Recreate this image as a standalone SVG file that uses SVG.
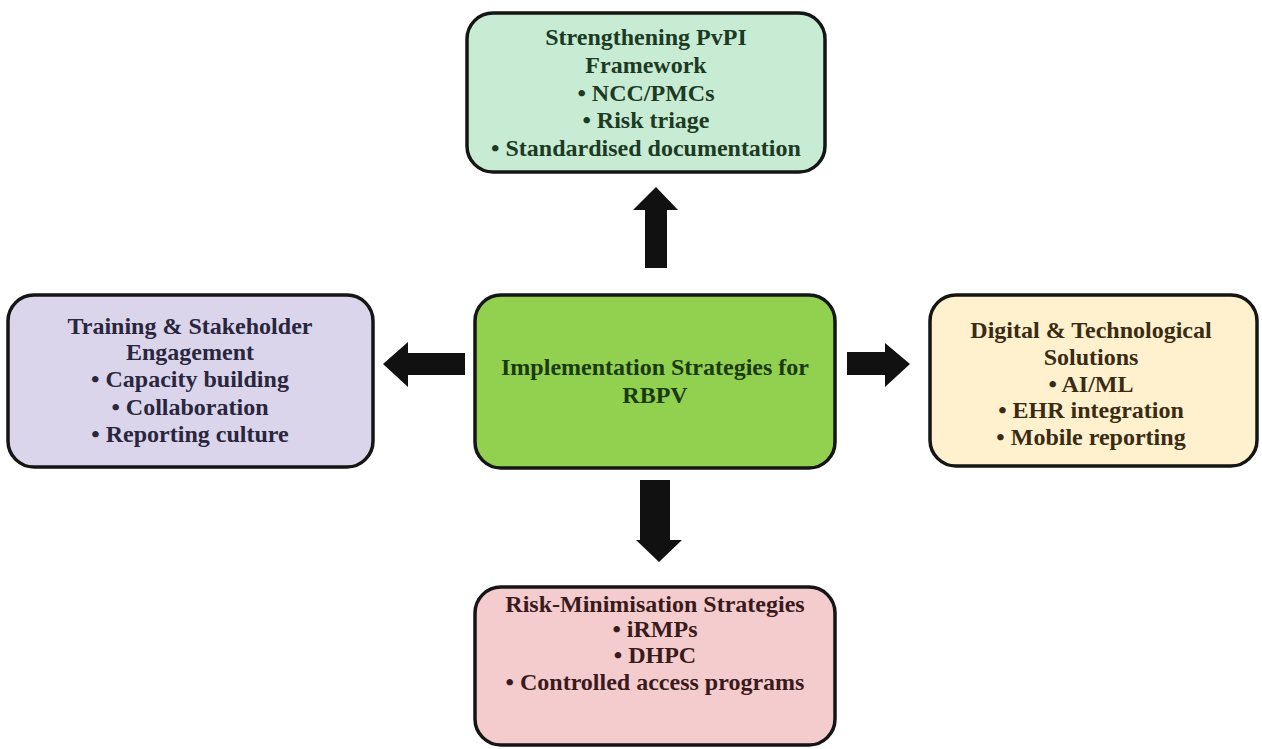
<svg xmlns="http://www.w3.org/2000/svg" width="1262" height="749" viewBox="0 0 1262 749">
<style>
.box{stroke:#151515;stroke-width:3.5}
.t{font-family:"Liberation Serif","Times New Roman",serif;font-weight:bold;font-size:24px;text-anchor:middle}
.arrow{fill:#111111}
</style>
<rect width="1262" height="749" fill="#ffffff"/>
<g id="connectors">
<polygon class="arrow" points="656,187 678,210 667,210 667,268 645,268 645,210 633,210"/>
<polygon class="arrow" points="383,364 408,342 408,353 465,353 465,375 408,375 408,387"/>
<polygon class="arrow" points="910,364 885,343 885,352 847,352 847,375 885,375 885,387"/>
<polygon class="arrow" points="659,562 682,540 670,540 670,480 640,480 640,540 636,540"/>
</g>
<g id="top">
<rect class="box" x="467" y="13" width="358" height="159" rx="26" fill="#c7ecd3"/>
<text class="t" fill="#1d3a25"><tspan x="646" y="45">Strengthening PvPI</tspan><tspan x="646" y="73">Framework</tspan><tspan x="646" y="101">• NCC/PMCs</tspan><tspan x="646" y="128">• Risk triage</tspan><tspan x="646" y="156">• Standardised documentation</tspan></text>
</g>
<g id="left">
<rect class="box" x="8" y="295" width="365" height="172" rx="26" fill="#dbd5ec"/>
<text class="t" fill="#29263d"><tspan x="190" y="334">Training &amp; Stakeholder</tspan><tspan x="190" y="360">Engagement</tspan><tspan x="190" y="387">• Capacity building</tspan><tspan x="190" y="415">• Collaboration</tspan><tspan x="190" y="442">• Reporting culture</tspan></text>
</g>
<g id="center">
<rect class="box" x="475" y="295" width="360" height="173" rx="26" fill="#92d050"/>
<text class="t" fill="#1a3a10"><tspan x="655" y="375">Implementation Strategies for</tspan><tspan x="655" y="403">RBPV</tspan></text>
</g>
<g id="right">
<rect class="box" x="930" y="295" width="327" height="171" rx="26" fill="#fff1cd"/>
<text class="t" fill="#3a2c14"><tspan x="1091" y="338">Digital &amp; Technological</tspan><tspan x="1091" y="365">Solutions</tspan><tspan x="1091" y="392">• AI/ML</tspan><tspan x="1091" y="418">• EHR integration</tspan><tspan x="1091" y="445">• Mobile reporting</tspan></text>
</g>
<g id="bottom">
<rect class="box" x="475" y="587" width="360" height="158" rx="26" fill="#f4cccd"/>
<text class="t" fill="#3a1a1c"><tspan x="655" y="612">Risk-Minimisation Strategies</tspan><tspan x="655" y="637">• iRMPs</tspan><tspan x="655" y="663">• DHPC</tspan><tspan x="655" y="690">• Controlled access programs</tspan></text>
</g>
</svg>
